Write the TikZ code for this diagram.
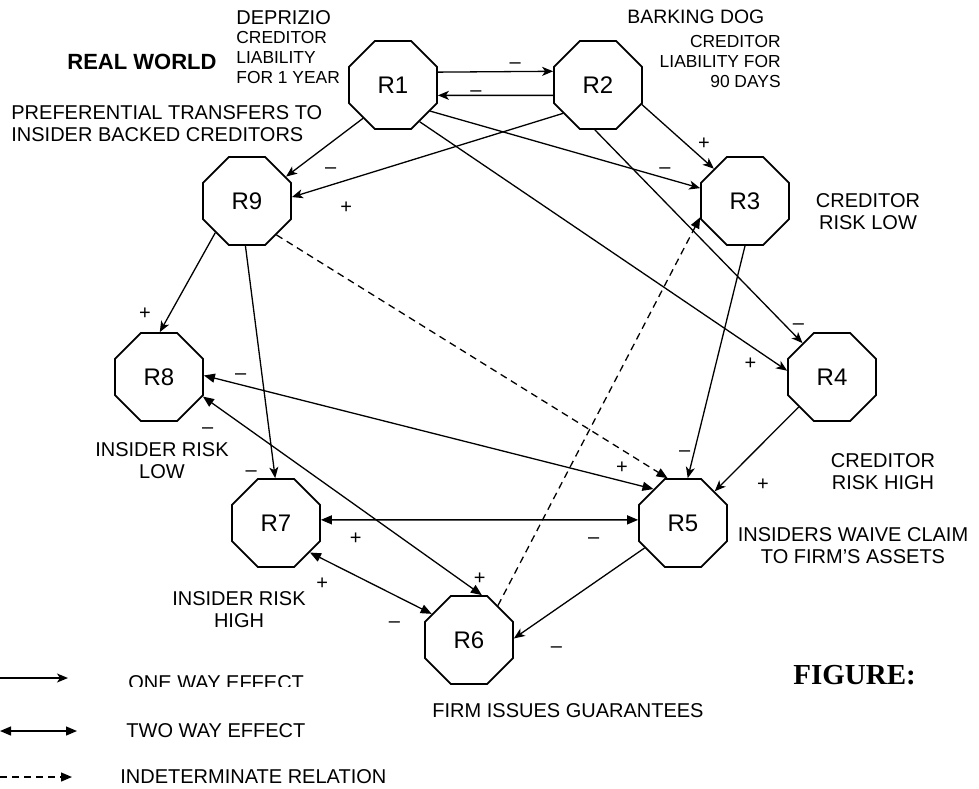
\documentclass[tikz,border=0pt]{standalone}
\usepackage{fontspec}
\setmainfont{Liberation Sans}
\newfontfamily\figfont{Liberation Serif}
\usetikzlibrary{shapes.geometric, arrows.meta}
\tikzset{
  rbox/.style={regular polygon, regular polygon sides=8, draw, line width=0.9pt,
               minimum size=47.6pt, inner sep=0pt, font=\fontsize{12}{14}\selectfont},
  onearrow/.style={-{Stealth[length=5.5pt, width=4.5pt, inset=1.5pt]}, line width=0.65pt},
  twoarrow/.style={{Triangle[length=5.5pt, width=4.5pt]}-{Triangle[length=5.5pt, width=4.5pt]},
                   line width=0.65pt},
  indarrow/.style={-{Triangle[length=5.5pt, width=4.5pt]}, line width=0.65pt,
                   dash pattern=on 3.5pt off 2.5pt},
  sgn/.style={font=\fontsize{10}{12}\selectfont, inner sep=0pt, text height=0.64em, text depth=0pt},
  note/.style={font=\fontsize{10}{11.3}\selectfont, align=center, inner sep=0pt},
  notesm/.style={font=\fontsize{8.7}{10.1}\selectfont, inner sep=0pt},
}

\begin{document}
\begin{tikzpicture}[x=0.5pt, y=-0.5pt]
  \useasboundingbox (0,0) rectangle (979,788);

  % the nine states
  \node[rbox] (R1) at (393,85)  {R1};
  \node[rbox] (R2) at (598,85)  {R2};
  \node[rbox] (R3) at (745,201) {R3};
  \node[rbox] (R4) at (832,377) {R4};
  \node[rbox] (R5) at (683,523) {R5};
  \node[rbox] (R6) at (469,640) {R6};
  \node[rbox] (R7) at (276,523) {R7};
  \node[rbox] (R8) at (159,377) {R8};
  \node[rbox] (R9) at (247,201) {R9};

  % descriptions
  \node[anchor=north west, inner sep=0pt, font=\bfseries\fontsize{11}{13}\selectfont]
    (world) at (67,54) {REAL WORLD};
  \node[anchor=north west, inner sep=0pt, font=\fontsize{10}{12}\selectfont]
    (deprizio) at (236,10) {DEPRIZIO};
  \node[notesm, anchor=north west, align=left] (deprtxt) at (236,31)
    {CREDITOR\\LIABILITY\\FOR 1 YEAR};
  \node[anchor=north west, inner sep=0pt, font=\fontsize{9.7}{12}\selectfont]
    (barking) at (627,10) {BARKING DOG};
  \node[notesm, anchor=north east, align=right] (barktxt) at (781,35)
    {CREDITOR\\LIABILITY FOR\\90 DAYS};
  \node[note, anchor=north west, align=left] (pref) at (11,105)
    {PREFERENTIAL TRANSFERS TO\\INSIDER BACKED CREDITORS};
  \node[note, anchor=north] (lowcred) at (868,193) {CREDITOR\\RISK LOW};
  \node[note, anchor=north] (highcred) at (883,453) {CREDITOR\\RISK HIGH};
  \node[note, anchor=north] (waive) at (853,527) {INSIDERS WAIVE CLAIM\\TO FIRM'S ASSETS};
  \node[note, anchor=north] (lowins) at (162,442) {INSIDER RISK\\LOW};
  \node[note, anchor=north] (highins) at (239,591) {INSIDER RISK\\HIGH};
  \node[note, anchor=north] (guar) at (568,703) {FIRM ISSUES GUARANTEES};
  \node[anchor=north west, inner sep=0pt, font=\figfont\bfseries\fontsize{14.5}{16}\selectfont]
    (fig) at (793,665) {FIGURE:};

  % effects
  \draw[onearrow] (R1.16.5) -- (R2.163.5) node[sgn, pos=0.67, yshift=4.5pt] {\textendash};
  \draw[onearrow] (R2.193) -- (R1.347) node[sgn, pos=0.67, yshift=2.5pt] {\textendash};
  \draw[onearrow] (R1.228) -- (R9.32) node[sgn, pos=0.42, yshift=-12pt] {\textendash};
  \draw[onearrow] (R2.219) -- (R9.5) node[sgn, pos=0.80, yshift=-13.4pt] {+};
  \draw[onearrow] (R1.325) -- (R3.164) node[sgn, pos=0.87, yshift=5.5pt] {\textendash};
  \draw[onearrow] (R2.336) -- (R3.134) node[sgn, pos=0.6, xshift=9.5pt] {+};
  \draw[onearrow] (R1.306) -- (R4.172) node[sgn, pos=0.90, yshift=-8.5pt] {+};
  \draw[onearrow] (R2.266) -- (R4.131) node[sgn, pos=0.906, xshift=7.75pt] {\textendash};
  \draw[onearrow] (R3.270) -- (R5.84) node[sgn, pos=0.88, xshift=-5pt] {\textendash};
  \draw[onearrow] (R4.222) -- (R5.45) node[sgn, pos=0.67, xshift=10.3pt, yshift=-10.2pt] {+};
  \draw[onearrow] (R9.225) -- (R8.89) node[sgn, pos=0.81, xshift=-12.7pt] {+};
  \draw[onearrow] (R9.268) -- (R7.91) node[sgn, pos=0.965, xshift=-11.5pt] {\textendash};
  \draw[onearrow] (R5.213) -- (R6.2.6) node[sgn, pos=0.674, yshift=-18.6pt] {\textendash};

  \draw[twoarrow] (R8.2.5) -- (R5.131)
    node[sgn, pos=0.082, yshift=5.75pt] {\textendash}
    node[sgn, pos=0.93, yshift=7pt] {+};
  \draw[twoarrow] (R8.336) -- (R6.74)
    node[sgn, pos=0.064, xshift=-6.5pt, yshift=-9.15pt] {\textendash}
    node[sgn, pos=0.966, xshift=3.7pt, yshift=5.15pt] {+};
  \draw[twoarrow] (R7.4) -- (R5.176)
    node[sgn, pos=0.11, yshift=-9pt] {+}
    node[sgn, pos=0.86, yshift=-8.5pt] {\textendash};
  \draw[twoarrow] (R7.319) -- (R6.145)
    node[sgn, pos=0.10, yshift=-12.1pt] {+}
    node[sgn, pos=0.695, yshift=-12.85pt] {\textendash};

  \draw[indarrow] (R9.311) -- (R5.109);
  \draw[indarrow] (R6.50) -- (R3.200);

  % legend
  \coordinate (onea) at (0,678);   \coordinate (oneb) at (68,678);
  \coordinate (twoa) at (0,731);   \coordinate (twob) at (77,731);
  \coordinate (inda) at (0,777);   \coordinate (indb) at (72,777);
  \draw[onearrow] (onea) -- (oneb);
  \draw[twoarrow] (twoa) -- (twob);
  \draw[indarrow] (inda) -- (indb);
  \begin{scope}
    \clip (100,660) rectangle (340,686.5);
    \node[note, anchor=north west] (onetxt) at (128,675) {ONE WAY EFFECT};
  \end{scope}
  \node[note, anchor=north west] (twotxt) at (126,723) {TWO WAY EFFECT};
  \node[note, anchor=north west] (indtxt) at (120,769) {INDETERMINATE RELATION};
\end{tikzpicture}
\end{document}
